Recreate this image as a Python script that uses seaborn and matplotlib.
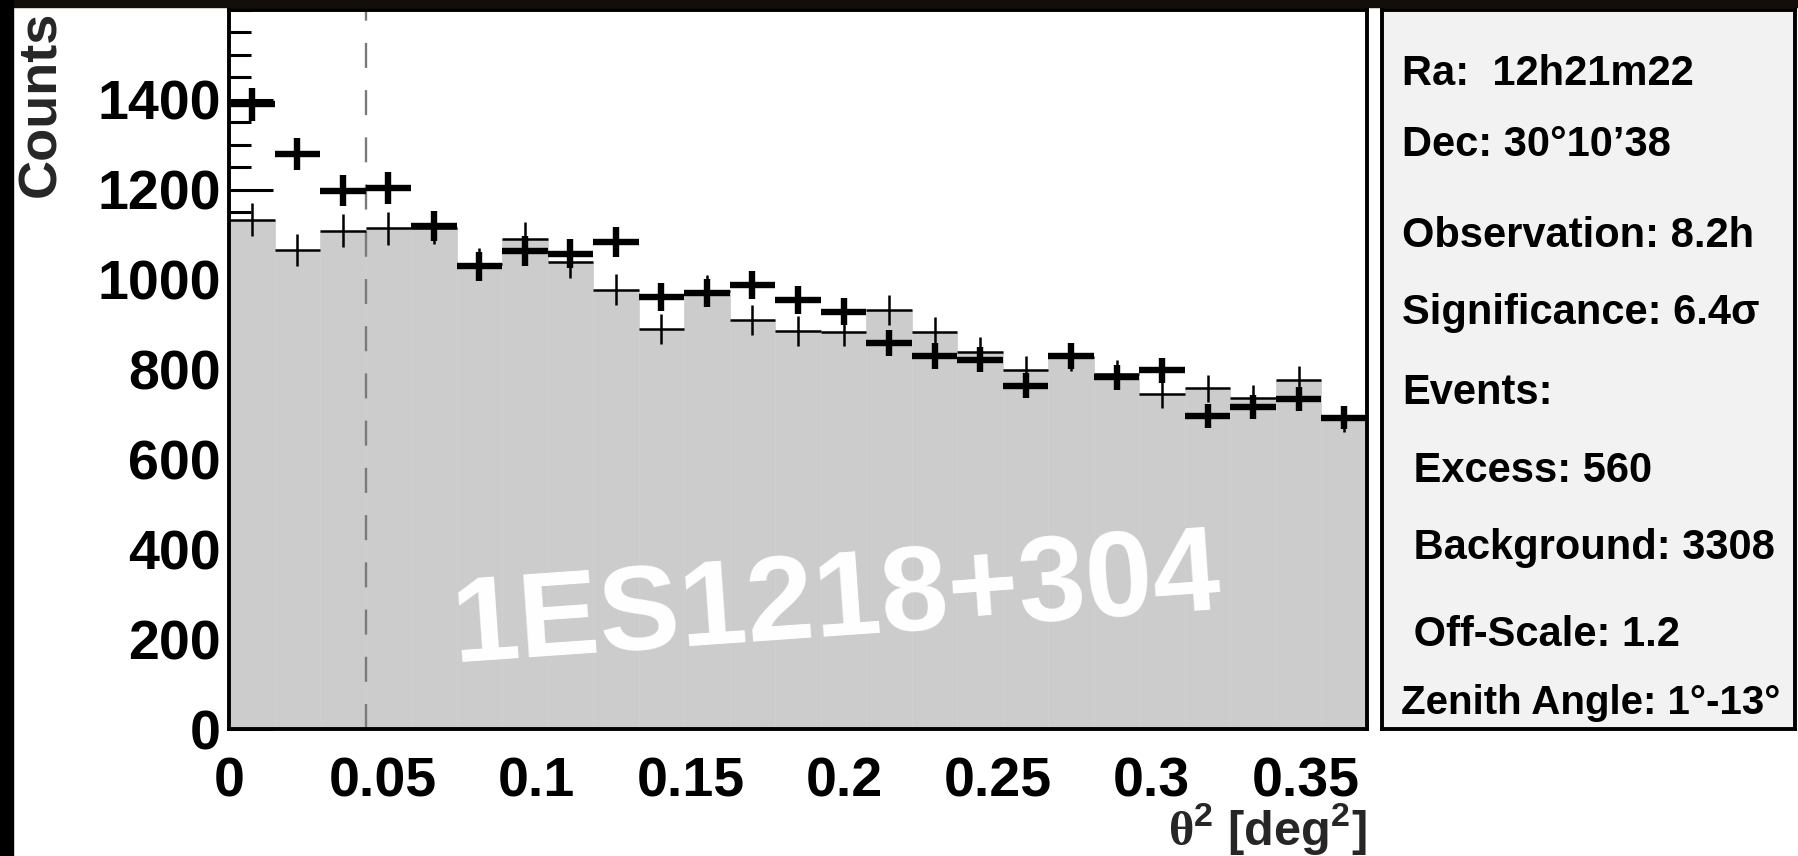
import numpy as np
import pandas as pd
import matplotlib
matplotlib.use("Agg")
import matplotlib.pyplot as plt
import seaborn as sns
from matplotlib.patches import Rectangle
from matplotlib.ticker import MultipleLocator

# ---- theta^2 histogram data -------------------------------------------
theta2_max = 0.37
n_bins = 25
bin_edges = np.linspace(0.0, theta2_max, n_bins + 1)
bin_centers = 0.5 * (bin_edges[:-1] + bin_edges[1:])
bin_width = bin_edges[1] - bin_edges[0]

# ON-source counts per bin
on_counts = [1390, 1280, 1198, 1204, 1120, 1030, 1064, 1058, 1084, 962,
             970, 988, 955, 929, 859, 830, 822, 764, 831, 783,
             798, 697, 716, 735, 693]
# OFF-source counts per bin, already multiplied by the off-scale factor
off_counts_scaled = [1133, 1066, 1109, 1114, 1115, 1035, 1091, 1040, 978, 890,
                     975, 910, 886, 884, 933, 884, 840, 798, 828, 790,
                     745, 758, 736, 777, 690]
off_scale = 1.2
n_signal_bins = 3  # bins inside the theta^2 cut

x_tick_values = [0.0, 0.05, 0.10, 0.15, 0.20, 0.25, 0.30, 0.35]
x_tick_labels = ["0", "0.05", "0.1", "0.15", "0.2", "0.25", "0.3", "0.35"]
y_tick_values = [0, 200, 400, 600, 800, 1000, 1200, 1400]

source_name = "1ES1218+304"
info_lines = [
    "Ra:  12h21m22",
    "Dec: 30°10’38",
    "Observation: 8.2h",
    "Significance: 6.4σ",
    "Events:",
    " Excess: 560",
    " Background: 3308",
    " Off-Scale: 1.2",
    "Zenith Angle: 1°-13°",
]

on_arr = np.asarray(on_counts, dtype=float)
off_arr = np.asarray(off_counts_scaled, dtype=float)
theta2_cut = bin_edges[n_signal_bins]
off_table = pd.DataFrame({"theta2": bin_centers, "counts": off_arr})

# ---- styling -------------------------------------------------------------
sns.set_style("ticks")
plt.rcParams["font.family"] = ["Liberation Sans", "DejaVu Sans"]
plt.rcParams["font.weight"] = "bold"
plt.rcParams["mathtext.fontset"] = "custom"
plt.rcParams["mathtext.rm"] = "Liberation Serif"
plt.rcParams["mathtext.bf"] = "Liberation Sans:bold"
plt.rcParams["lines.scale_dashes"] = False

W, H = 1799, 856
fig = plt.figure(figsize=(W / 100, H / 100), dpi=100)
fig.patch.set_facecolor("white")


def px_box(left, top, right, bottom):
    return [left / W, 1 - bottom / H, (right - left) / W, (bottom - top) / H]


def fx(x):
    return x / W


def fy(y):
    return 1 - y / H


# dark frame strips along the top and left edges
fig.patches.append(Rectangle((0, fy(7)), 1, 7 / H, transform=fig.transFigure,
                             color="#140e0a", zorder=0))
fig.patches.append(Rectangle((0, 0), 13 / W, 1, transform=fig.transFigure,
                             color="black", zorder=0))

# ---- main histogram axes ---------------------------------------------------
ax = fig.add_axes(px_box(229, 10, 1367, 729))
ax.set_facecolor("white")

sns.histplot(data=off_table, x="theta2", weights="counts",
             bins=[float(e) for e in bin_edges],
             element="bars", fill=True, color="#cccccc", alpha=1.0,
             edgecolor="#d0d0d0", linewidth=0.6, ax=ax, zorder=1)

ax.axvline(theta2_cut, color="#7a7a7a", lw=1.7, ls=(0, (18, 16)), zorder=2)

# scaled OFF counts (thin crosses)
ax.errorbar(bin_centers, off_arr, xerr=bin_width / 2,
            yerr=np.sqrt(off_scale * off_arr), fmt="none", ecolor="black",
            elinewidth=1.8, capsize=0, zorder=3)
# ON counts (thick crosses)
ax.errorbar(bin_centers, on_arr, xerr=bin_width / 2, yerr=np.sqrt(on_arr),
            fmt="none", ecolor="black", elinewidth=4.6, capsize=0, zorder=4)

ax.text(fx(454), fy(662), source_name, transform=fig.transFigure,
        ha="left", va="baseline", rotation=4, rotation_mode="anchor",
        fontsize=87, fontweight="bold", color="white", zorder=2.5)

ax.set_xlim(0, theta2_max)
ax.set_ylim(0, 1600)
ax.set_xticks(x_tick_values, labels=x_tick_labels)
ax.set_yticks(y_tick_values)
ax.xaxis.set_minor_locator(MultipleLocator(0.01))
ax.yaxis.set_minor_locator(MultipleLocator(50))
ax.set_xlabel("")
ax.set_ylabel("")

for side in ["left", "right", "top", "bottom"]:
    ax.spines[side].set_visible(True)
    ax.spines[side].set_linewidth(2.8)
    ax.spines[side].set_color("black")

ax.tick_params(axis="both", which="both", direction="in", width=2.2,
               colors="black", labelsize=40)
ax.tick_params(axis="y", which="major", length=32, pad=6)
ax.tick_params(axis="y", which="minor", length=16)
ax.tick_params(axis="x", which="major", length=13, pad=20)
ax.tick_params(axis="x", which="minor", length=6.5)
for lab in ax.get_xticklabels() + ax.get_yticklabels():
    lab.set_fontweight("bold")

# axis titles
fig.text(fx(55), fy(11), "Counts", rotation=90, rotation_mode="anchor",
         ha="right", va="baseline", fontsize=39, fontweight="bold")
fig.text(fx(1367), fy(846), r"$\mathrm{\theta}^{\mathbf{2}}$ [deg$^{\mathbf{2}}$]",
         ha="right", va="baseline", fontsize=35, fontweight="bold")

# ---- info panel ------------------------------------------------------------
pax = fig.add_axes(px_box(1382, 10, 1795, 729))
pax.set_facecolor("#f2f2f2")
pax.set_xticks([])
pax.set_yticks([])
for side in ["left", "right", "top", "bottom"]:
    pax.spines[side].set_visible(True)
    pax.spines[side].set_linewidth(2.8)
    pax.spines[side].set_color("black")

line_x = [1402, 1402, 1402, 1402, 1402, 1402, 1402, 1402, 1401]
line_baseline = [85, 156, 247, 324, 404, 482, 559, 646, 714]
line_size = [30, 30, 30, 30, 30, 30, 30, 30, 29]
for text, x, yb, fs in zip(info_lines, line_x, line_baseline, line_size):
    fig.text(fx(x), fy(yb), text, ha="left", va="baseline", fontsize=fs,
             fontweight="bold", color="black")

fig.savefig("out.png", dpi=100)
